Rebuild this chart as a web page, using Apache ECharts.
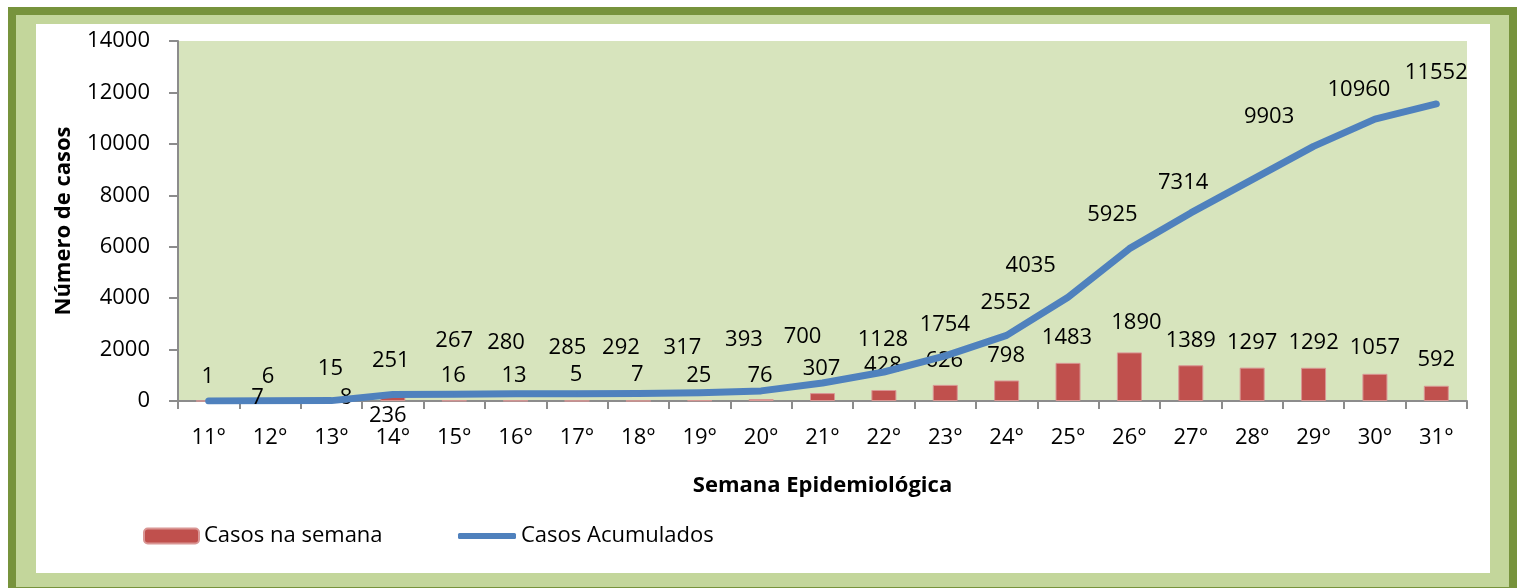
<!DOCTYPE html>
<html>
<head>
<meta charset="utf-8">
<script src="https://cdn.jsdelivr.net/npm/echarts@6/dist/echarts.min.js"></script>
<style>
  html, body { margin: 0; padding: 0; width: 1523px; height: 588px; background: #ffffff; overflow: hidden; }
  .frame { position: absolute; }
  #outer { left: 8px; top: 7px; width: 1509px; height: 581px; background: #77933C; }
  #mid { left: 16px; top: 15px; width: 1493px; height: 572px; background: #C3D69B; }
  #inner { left: 36px; top: 24px; width: 1454px; height: 549px; background: #ffffff; }
  #chart { position: absolute; left: 0; top: 0; width: 1523px; height: 588px; }
</style>
</head>
<body>
<div class="frame" id="outer"></div>
<div class="frame" id="mid"></div>
<div class="frame" id="inner"></div>
<div id="chart"></div>
<script>
// ---- data ----
const weeks = ['11°','12°','13°','14°','15°','16°','17°','18°','19°','20°','21°','22°','23°','24°','25°','26°','27°','28°','29°','30°','31°'];
const casosSemana = [1, 6, 8, 236, 16, 13, 5, 7, 25, 76, 307, 428, 626, 798, 1483, 1890, 1389, 1297, 1292, 1057, 592];
const casosAcumulados = [1, 7, 15, 251, 267, 280, 285, 292, 317, 393, 700, 1128, 1754, 2552, 4035, 5925, 7314, 8611, 9903, 10960, 11552];
const yTicks = { min: 0, max: 14000, interval: 2000 };

// ---- label layout (pixel nudges, as manually placed in the original) ----
const weekLabelShift = [[-1,-26],[-2,-26],[14.5,-5],[-5,19],[-1,-27],[-1.5,-27],[-1,-27.5],[-1,-27.5],[-1,-26.5],[-1,-25.7],[-1,-26.5],[-1,-26.7],[-1,-26.6],[-0.5,-27.2],[-1,-27],[7,-31.4],[0,-26.6],[0,-27],[0,-27.3],[0,-27.6],[0,-27.8]];
const cumLabelShift = [null,[-12.6,-4],[-1,-32.6],[-2,-34.5],[0,-54],[-9.6,-52],[-9.5,-47],[-17.4,-46.8],[-17.3,-46.2],[-17.2,-52.6],[-20,-47.2],[-1,-33.7],[-0.4,-32.6],[-1,-33.7],[-37.3,-33],[-17,-35.3],[-7.6,-31],null,[-44.5,-30.7],[-16,-30.2],[0,-32.3]];
const GLYPH_DY = 2; // font baseline correction

const FONT = '"Open Sans"';
const labelBase = { fontFamily: FONT, fontSize: 22, color: '#000000' };
const shift = s => [s[0], s[1] + GLYPH_DY];

const barData = casosSemana.map((v, i) => ({
  value: v,
  label: { offset: shift(weekLabelShift[i]) }
}));
const lineData = casosAcumulados.map((v, i) => ({
  value: v,
  label: cumLabelShift[i] ? { offset: shift(cumLabelShift[i]) } : { show: false }
}));

const chart = echarts.init(document.getElementById('chart'), null, { renderer: 'canvas' });
chart.setOption({
  backgroundColor: 'transparent',
  animation: false,
  grid: {
    left: 178, top: 41, right: 56, bottom: 187,
    show: true, backgroundColor: '#D7E4BD', borderWidth: 0
  },
  legend: [
    {
      data: ['Casos na semana'],
      left: 143, top: 525, padding: 0,
      itemWidth: 55, itemHeight: 15, itemGap: 0,
      textStyle: { fontFamily: FONT, fontSize: 22, color: '#000' }
    },
    {
      data: [{ name: 'Casos Acumulados', icon: 'roundRect' }],
      left: 458, top: 525, padding: 0,
      itemWidth: 58, itemHeight: 6, itemGap: 0,
      textStyle: { fontFamily: FONT, fontSize: 22, color: '#000' }
    }
  ],
  xAxis: {
    type: 'category',
    data: weeks,
    boundaryGap: true,
    name: 'Semana Epidemiológica',
    nameLocation: 'middle',
    nameGap: 74,
    nameTextStyle: { fontFamily: FONT, fontSize: 22, fontWeight: 'bold', color: '#000' },
    axisLine: { show: true, lineStyle: { color: '#8C8C8C', width: 2 } },
    axisTick: { show: true, alignWithLabel: false, length: 8, lineStyle: { color: '#8C8C8C', width: 2 } },
    axisLabel: { fontFamily: FONT, fontSize: 22, color: '#000', margin: 26, interval: 0 },
    splitLine: { show: false }
  },
  yAxis: {
    type: 'value',
    min: yTicks.min, max: yTicks.max, interval: yTicks.interval,
    name: 'Número de casos',
    nameLocation: 'middle',
    nameGap: 103,
    nameRotate: 90,
    nameTextStyle: { fontFamily: FONT, fontSize: 22, fontWeight: 'bold', color: '#000' },
    axisLine: { show: true, lineStyle: { color: '#8C8C8C', width: 2 } },
    axisTick: { show: true, inside: false, length: 9, lineStyle: { color: '#8C8C8C', width: 2 } },
    axisLabel: { fontFamily: FONT, fontSize: 22, color: '#000', margin: 28, formatter: v => String(v) },
    splitLine: { show: false }
  },
  series: [
    {
      name: 'Casos na semana',
      type: 'bar',
      data: barData,
      barWidth: 25,
      itemStyle: { color: '#C0504D', borderColor: '#D99694', borderWidth: 1 },
      label: Object.assign({ show: true, position: 'top', distance: 0, verticalAlign: 'middle', align: 'center' }, labelBase),
      z: 2
    },
    {
      name: 'Casos Acumulados',
      type: 'line',
      data: lineData,
      symbol: 'circle',
      symbolSize: 2,
      showSymbol: true,
      itemStyle: { color: '#4F81BD' },
      lineStyle: { color: '#4F81BD', width: 7, cap: 'round', join: 'round' },
      label: Object.assign({ show: true, position: 'top', distance: 0, verticalAlign: 'middle', align: 'center' }, labelBase),
      z: 3
    }
  ]
});
</script>
</body>
</html>
